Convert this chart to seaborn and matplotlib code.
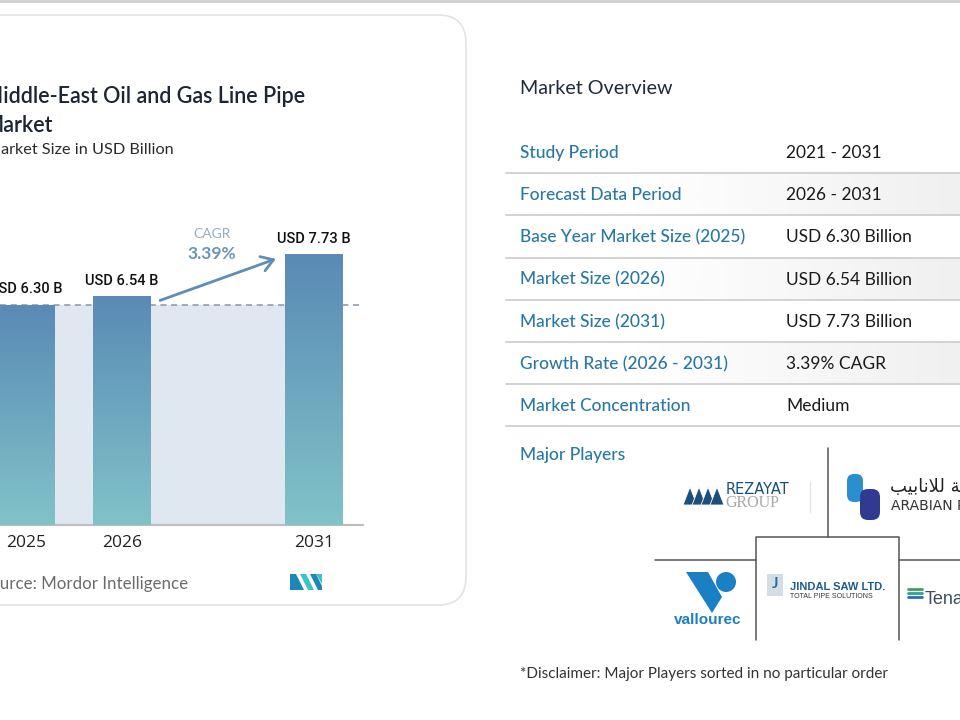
import numpy as np
import pandas as pd
import seaborn as sns
import matplotlib.pyplot as plt
from matplotlib.patches import FancyBboxPatch, Polygon, Circle, Rectangle
from matplotlib.colors import LinearSegmentedColormap, to_rgb

# chart data
years = ["2025", "2026", "2031"]
sizes = [6.30, 6.54, 7.73]
value_labels = ["USD 6.30 B", "USD 6.54 B", "USD 7.73 B"]
cagr_text = "3.39%"

title = "Middle-East Oil and Gas Line Pipe\nMarket"
subtitle = "Market Size in USD Billion"
source = "Source: Mordor Intelligence"

# overview table
overview_labels = ["Study Period", "Forecast Data Period", "Base Year Market Size (2025)",
                   "Market Size (2026)", "Market Size (2031)", "Growth Rate (2026 - 2031)",
                   "Market Concentration"]
overview_values = ["2021 - 2031", "2026 - 2031", "USD 6.30 Billion", "USD 6.54 Billion",
                   "USD 7.73 Billion", "3.39% CAGR", "Medium"]
shaded_rows = [1, 3, 5]
disclaimer = "*Disclaimer: Major Players sorted in no particular order"

sns.set_theme(style="white")
plt.rcParams["font.family"] = ["Lato", "DejaVu Sans"]

fig = plt.figure(figsize=(9.6, 7.2), dpi=100)
fig.patch.set_facecolor("white")

# overlay in pixel units for the card and the right panel
ov = fig.add_axes([0, 0, 1, 1], zorder=0)
ov.axis("off")

ov.plot([0, 960], [1, 1], color="#cfcfcf", lw=2)
card = FancyBboxPatch((-30, 15), 496, 590, boxstyle="round,pad=0,rounding_size=28",
                      fc="white", ec="#e3e3e3", lw=1.2, mutation_aspect=1)
ov.add_patch(card)

# ---- bar chart ----
ax = fig.add_axes([0, 195 / 720, 363 / 960, 315 / 720], zorder=1)
ax.patch.set_alpha(0)
df = pd.DataFrame({"year": years, "size": sizes})
order = years[:2] + ["gap"] + years[2:]
sns.barplot(data=df, x="year", y="size", order=order, width=0.6,
            color="#6a9fc0", ax=ax, zorder=3)

bars = list(ax.patches)
cmap = LinearSegmentedColormap.from_list("bar", ["#80c3c8", "#5a8ab5"])
grad = np.linspace(0, 1, 256).reshape(-1, 1)
for bar in bars:
    x0, w, h = bar.get_x(), bar.get_width(), bar.get_height()
    im = ax.imshow(grad, extent=[x0, x0 + w, 0, h], origin="lower",
                   aspect="auto", cmap=cmap, zorder=3)
    im.set_clip_path(bar)
    bar.set_facecolor("none")
    bar.set_edgecolor("none")

centers = [b.get_x() + b.get_width() / 2 for b in bars]
bw = bars[0].get_width()

ax.fill_between([centers[0], centers[-1]], 0, sizes[0], color="#dfe8f0", zorder=1, lw=0)
ax.axhline(sizes[0], color="#8497a8", lw=1.1, ls=(0, (4, 3)), zorder=2)

for c, s, lab in zip(centers, sizes, value_labels):
    ax.text(c, s + 0.43, lab, ha="center", va="center", fontsize=10.5,
            fontweight="medium", family=["Roboto", "DejaVu Sans"], color="#111111")

# CAGR arrow between 2026 and 2031
start = (bars[1].get_x() + bw + 0.07, sizes[1] - 0.15)
end = (bars[2].get_x() - 0.07, sizes[2] - 0.1)
ax.annotate("", xy=end, xytext=start,
            arrowprops=dict(arrowstyle="->,head_length=0.7,head_width=0.45",
                            color="#5f8db5", lw=2), zorder=4)
mid_x = (start[0] + end[0]) / 2 - 0.06
mid_y = (start[1] + end[1]) / 2
ax.text(mid_x, mid_y + 1.3, "CAGR", ha="center", va="center", fontsize=10,
        color="#97adc2")
ax.text(mid_x, mid_y + 0.72, cagr_text, ha="center", va="center", fontsize=12.5,
        fontweight="bold", color="#6a95b8")

ax.set_xticks(centers, years)
ax.set_yticks([])
ax.set_xlabel("")
ax.set_ylabel("")
ax.set_xlim(-0.27, 3.51)
ax.set_ylim(0, 9)
ax.tick_params(axis="x", length=0, pad=7, labelsize=12.5, labelcolor="#222222")
for t in ax.get_xticklabels():
    t.set_family(["Open Sans", "DejaVu Sans"])
sns.despine(ax=ax, left=True)
ax.spines["bottom"].set_color("#bdbdbd")
ax.spines["bottom"].set_linewidth(1.5)

# titles on the card
ov.text(-17, 111, title, ha="left", va="center", fontsize=15.5, fontweight="semibold",
        color="#1c2533", linespacing=1.5)
ov.text(-14, 150, subtitle, ha="left", va="center", fontsize=11.7, color="#2b2b2b")
ov.text(-19, 584, source, ha="left", va="center", fontsize=12.2, color="#6b6b6b")

# small MI logo
ov.add_patch(Polygon([(290, 590), (290, 574), (296, 574), (304, 590)], fc="#1f86b8", ec="none"))
ov.add_patch(Polygon([(300, 574), (306, 574), (314, 590), (308, 590)], fc="#3fc1c9", ec="none"))
ov.add_patch(Polygon([(310, 574), (316, 574), (322, 586), (322, 590), (318, 590)], fc="#1f86b8", ec="none"))
ov.add_patch(Polygon([(316, 574), (322, 574), (322, 584)], fc="#3fc1c9", ec="none"))

# ---- right panel ----
ov.text(520, 88, "Market Overview", ha="left", va="center", fontsize=14.2, color="#1f2a3a")

row_step = 42.2
row_y = [153 + row_step * i for i in range(len(overview_labels))]
shade = np.zeros((1, 256, 4))
shade[..., :3] = to_rgb("#f0f0f0")
shade[..., 3] = np.clip(np.linspace(-0.4, 1.0, 256), 0, 1)
for i in shaded_rows:
    ov.imshow(shade, extent=[506, 960, row_y[i] + row_step / 2, row_y[i] - row_step / 2],
              aspect="auto", zorder=0)
for y, lab, val in zip(row_y, overview_labels, overview_values):
    ov.text(520, y, lab, ha="left", va="center", fontsize=12.5, color="#2878a4",
            fontweight="medium")
    ov.text(786, y, val, ha="left", va="center", fontsize=12.5, color="#1a1a1a")
    ov.plot([506, 960], [y + row_step / 2 - 1, y + row_step / 2 - 1], color="#d2d2d2", lw=1.4)

ov.text(520, 455, "Major Players", ha="left", va="center", fontsize=12.5,
        color="#2878a4", fontweight="medium")

# logo grid lines
grid_kw = dict(color="#555555", lw=1.1)
ov.plot([828, 828], [448, 537], **grid_kw)
ov.plot([756, 756, 899, 899], [640, 537, 537, 640], **grid_kw)
ov.plot([655, 756], [560, 560], **grid_kw)
ov.plot([899, 960], [560, 560], **grid_kw)

# Rezayat
for k in range(4):
    x0 = 683 + 9 * k
    ov.add_patch(Polygon([(x0, 505), (x0 + 7, 487), (x0 + 14, 505)], fc="#1d4f7a", ec="white", lw=0.6))
ov.text(726, 489, "REZAYAT", ha="left", va="center", fontsize=10.5, color="#1d4f7a",
        family=["DejaVu Sans"])
ov.text(725, 503, "GROUP", ha="left", va="center", fontsize=11.5, color="#a8a8a8",
        family=["Liberation Serif"])
ov.plot([810, 810], [482, 512], color="#e6e6e6", lw=1)

# Arabian Pipes
ov.add_patch(FancyBboxPatch((847, 474), 16, 28, boxstyle="round,pad=0,rounding_size=7",
                            fc="#2a8fd0", ec="none", mutation_aspect=1))
ov.add_patch(FancyBboxPatch((860, 489), 20, 31, boxstyle="round,pad=0,rounding_size=8",
                            fc="#2f3b8f", ec="none", mutation_aspect=1))
ov.text(890, 487, "ﺐﻴﺑﺎﻧﻼﻟ ﺔﻴﺑﺮﻌﻟﺍ", ha="left", va="center", fontsize=13,
        color="#222222", family=["DejaVu Sans"])
ov.text(891, 506, "ARABIAN PIPES", ha="left", va="center", fontsize=10,
        color="#333333", family=["DejaVu Sans"])

# Vallourec
ov.add_patch(Polygon([(686, 572), (708, 572), (722, 597), (712, 613)], fc="#1b80c3", ec="none"))
ov.add_patch(Circle((726, 582), 10, fc="#1b80c3", ec="none"))
ov.text(708, 620, "vallourec", ha="center", va="center", fontsize=11, fontweight="bold",
        color="#1b80c3", family=["Liberation Sans"])

# Jindal Saw
ov.add_patch(Rectangle((767, 574), 16, 22, fc="#d5dde4", ec="none"))
ov.text(775, 584, "J", ha="center", va="center", fontsize=11, fontweight="bold", color="#2a6aa0")
ov.text(790, 587, "JINDAL SAW LTD.", ha="left", va="center", fontsize=8, fontweight="bold",
        color="#1e5c8c", family=["Liberation Sans"])
ov.text(790, 597, "TOTAL PIPE SOLUTIONS", ha="left", va="center", fontsize=5,
        color="#333333", family=["Liberation Sans"])

# Tenaris
for k, col in enumerate(["#3aa35a", "#2aa0a0", "#2a70b0"]):
    ov.plot([908, 922], [589 + 4 * k, 589 + 4 * k], color=col, lw=2)
ov.text(925, 599, "Tenaris", ha="left", va="center", fontsize=13, color="#3e4d5c",
        family=["Liberation Sans"])

ov.text(520, 674, disclaimer, ha="left", va="center", fontsize=11, color="#333333")

ov.set_xlim(0, 960)
ov.set_ylim(720, 0)

fig.savefig("out.png", dpi=100)
